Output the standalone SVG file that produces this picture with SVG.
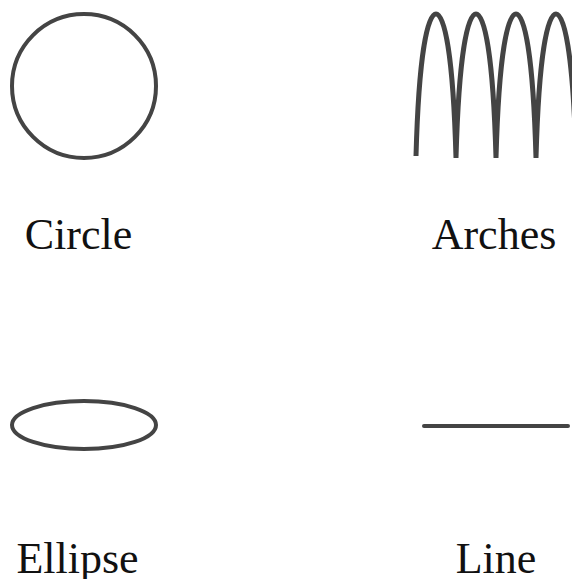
<svg xmlns="http://www.w3.org/2000/svg" width="572" height="579" viewBox="0 0 572 579">
<style>
.shape{fill:none;stroke:#444;stroke-width:4;stroke-linecap:round}
.lbl{font-family:"Liberation Serif","Times New Roman",serif;font-size:44px;fill:#111;text-anchor:middle}
</style>
<rect width="572" height="579" fill="#fff"/>
<g id="circle">
<circle class="shape" cx="84" cy="86" r="72"/>
<text class="lbl" x="78.5" y="249">Circle</text>
</g>
<g id="arches">
<path class="shape" style="stroke-width:5;stroke-linecap:butt" d="M416,156 C419,50 428,14 436,14 C444,14 453,50 456,158 C459,50 468,14 476,14 C484,14 493,50 496,158 C499,50 508,14 516,14 C524,14 533,50 536,158 C539,50 548,14 556,14 C564,14 573,50 576,158"/>
<text class="lbl" x="494" y="249">Arches</text>
</g>
<g id="ellipse">
<ellipse class="shape" cx="84" cy="425" rx="72" ry="24"/>
<text class="lbl" x="77.5" y="573">Ellipse</text>
</g>
<g id="line">
<line class="shape" x1="424" y1="426" x2="568" y2="426"/>
<text class="lbl" x="496" y="573">Line</text>
</g>
<g id="connectors"/>
</svg>
